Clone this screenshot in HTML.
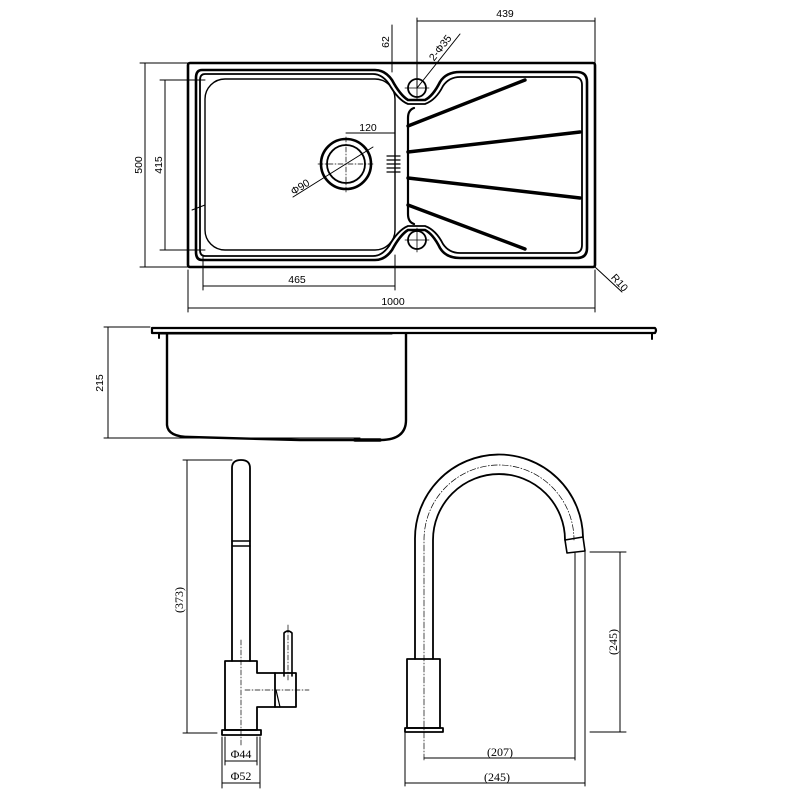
<!DOCTYPE html>
<html><head><meta charset="utf-8"><style>
html,body{margin:0;padding:0;background:#fff;}
svg{display:block;}
text{font-family:"Liberation Sans",sans-serif;fill:#000;}
.s{font-family:"Liberation Serif",serif;}
</style></head><body>
<svg width="800" height="800" viewBox="0 0 800 800" xmlns="http://www.w3.org/2000/svg">
<g fill="none" stroke="#000" stroke-linecap="round" stroke-linejoin="round">
<!-- TOP VIEW -->
<rect x="188" y="63" width="407" height="204" rx="2" stroke-width="2.6"/>
<path d="M202,70 H375 Q385,70 392,80 Q400,95 408,100 H425 Q433,96 440,82 Q446,72 460,72 H577 Q587,72 587,82 V248 Q587,258 577,258 H460 Q446,258 440,248 Q433,234 425,230 H408 Q400,235 392,250 Q385,260 375,260 H202 Q196,260 196,252 V78 Q196,70 202,70 Z" stroke-width="2.6"/>
<path d="M205,74 H373 Q382,74 389,84 Q398,100 408,104 H425 Q436,100 443,86 Q449,77 460,77 H574 Q582,77 582,85 V245 Q582,253 574,253 H460 Q449,253 443,244 Q436,230 425,226 H408 Q398,230 389,246 Q382,256 373,256 H205 Q200,256 200,250 V80 Q200,74 205,74 Z" stroke-width="1.8"/>
<rect x="205" y="79" width="190" height="171" rx="20" stroke-width="1.4"/>
<path d="M414,108 Q408,110 408,118 V214 Q408,222 414,224" stroke-width="2.2"/>
<path d="M408,126 L525,80 M408,152 L580,132 M408,178 L580,198 M408,205 L525,249" stroke-width="3.4"/>
<circle cx="346" cy="164" r="25" stroke-width="2.6"/>
<circle cx="346" cy="164" r="19" stroke-width="1.8"/>
<path d="M318,164 H375 M346,137 V192" stroke-width="0.7" stroke-dasharray="5,2,1,2"/>
<circle cx="417" cy="88" r="9" stroke-width="1.8"/>
<circle cx="417" cy="240" r="9" stroke-width="1.8"/>
<path d="M405,88 H429 M417,76 V100 M405,240 H429 M417,228 V252" stroke-width="0.8"/>
<path d="M387,156 H400 M387,160 H400 M387,164 H400 M387,168 H400 M387,172 H400" stroke-width="1.2"/>
<g stroke-width="1">
<path d="M417,21 H595 M417,18 V88 M595,18 V63"/>
<path d="M392,25 V72"/>
<path d="M417,88 L460,34"/>
<path d="M145,63 V267 M140,63 H188 M140,267 H188"/>
<path d="M165,80 V250 M160,80 H205 M160,250 H205"/>
<path d="M203,286 H395 M203,255 V290 M395,255 V290"/>
<path d="M188,308 H595 M188,270 V312 M595,270 V312"/>
<path d="M346,133 H395"/>
<path d="M293,197 L373,147"/>
<path d="M595,267 L622,292"/>
<path d="M192,210 L205,205"/>
</g>
<!-- SIDE VIEW -->
<path d="M152,328 H655 Q657,330 655,333 H152 Z" stroke-width="2.2"/>
<path d="M159,333 V338 M652,333 V339" stroke-width="2"/>
<path d="M160,334 H392" stroke-width="1"/>
<path d="M167,334 V425 Q168,437 190,437 L300,440 L380,440 Q406,440 406,420 V334" stroke-width="2.4"/>
<path d="M355,440 H380" stroke-width="3.5"/>
<path d="M108,327 V438 M104,327 H150 M104,438 H360" stroke-width="1"/>
<!-- FAUCET 1 -->
<path d="M232,661 V468 Q232,460 241,460 Q250,460 250,468 V661" stroke-width="1.8"/>
<path d="M232,541 H250 M232,546 H250" stroke-width="1.4"/>
<path d="M225,661 H257 V673 H275 V707 H257 V730 H225 Z" stroke-width="1.8"/>
<path d="M275,673 H296 V707 H275" stroke-width="1.8"/>
<path d="M284,676 V633 Q288,629 292,633 V676" stroke-width="1.6"/>
<path d="M276,690 L280,707" stroke-width="1.2"/>
<path d="M222,730 H261 V735 H222 Z" stroke-width="1.8"/>
<path d="M241,640 V745 M245,690 H309 M288,625 V680" stroke-width="0.7" stroke-dasharray="5,2,1,2"/>
<path d="M187,460 V733 M183,460 H232 M183,733 H217" stroke-width="1"/>
<path d="M222,737 V788 M225,737 V765 M257,737 V765 M260,737 V788 M225,761 H257 M222,783 H260" stroke-width="1"/>
<!-- FAUCET 2 -->
<path d="M415,659 V540 A84,84 0 0 1 583,537 M433,659 V540 A66,66 0 0 1 565,540" stroke-width="1.8"/>
<path d="M424,760 V540 A75,75 0 0 1 574,540" stroke-width="0.7" stroke-dasharray="6,2,1,2"/>
<path d="M565,540 L583,537 L585,551 L567,553 Z" stroke-width="1.6"/>
<path d="M407,659 H440 V728 H407 Z" stroke-width="1.8"/>
<path d="M405,728 H443 V732 H405 Z" stroke-width="1.8"/>
<path d="M575,553 V760 M585,551 V786 M405,732 V786 M424,758 H575 M405,783 H585" stroke-width="1"/>
<path d="M590,552 H626 M590,732 H626 M620,552 V732" stroke-width="1"/>
</g>
<g font-size="10.5">
<text x="505" y="17" text-anchor="middle">439</text>
<text transform="translate(389,42) rotate(-90)" text-anchor="middle">62</text>
<text transform="translate(443,50) rotate(-52)" text-anchor="middle">2-Φ35</text>
<text transform="translate(142,165) rotate(-90)" text-anchor="middle">500</text>
<text transform="translate(162,165) rotate(-90)" text-anchor="middle">415</text>
<text x="297" y="283" text-anchor="middle">465</text>
<text x="393" y="305" text-anchor="middle">1000</text>
<text x="368" y="131" text-anchor="middle">120</text>
<text transform="translate(302,190) rotate(-32)" text-anchor="middle">Φ90</text>
<text transform="translate(617,285) rotate(48)" text-anchor="middle">R10</text>
<text transform="translate(103,383) rotate(-90)" text-anchor="middle">215</text>
</g>
<g font-size="12">
<text class="s" transform="translate(183,600) rotate(-90)" text-anchor="middle">(373)</text>
<text class="s" x="241" y="758" text-anchor="middle">Φ44</text>
<text class="s" x="241" y="780" text-anchor="middle">Φ52</text>
<text class="s" x="500" y="756" text-anchor="middle">(207)</text>
<text class="s" x="497" y="781" text-anchor="middle">(245)</text>
<text class="s" transform="translate(617,642) rotate(-90)" text-anchor="middle">(245)</text>
</g>
</svg>
</body></html>
